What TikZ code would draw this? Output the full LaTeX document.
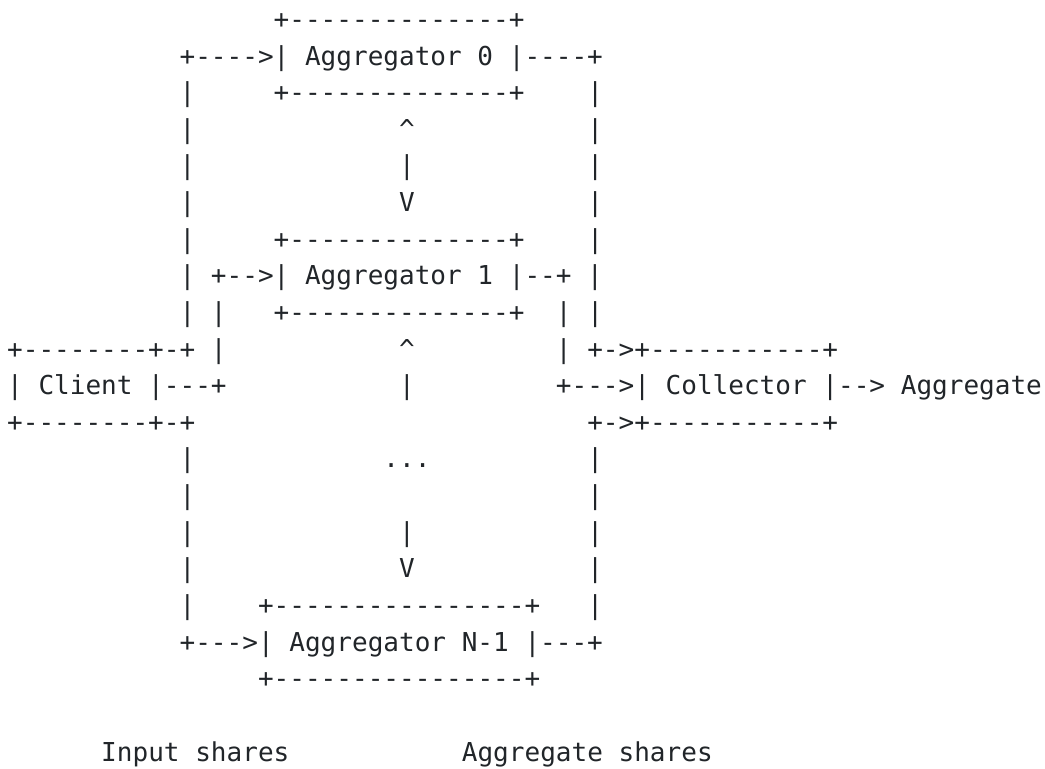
\documentclass[tikz,border=0pt]{standalone}
\usepackage{fontspec}
\setmonofont{DejaVu Sans Mono}
\definecolor{ink}{RGB}{33,37,41}

\begin{document}
\begin{tikzpicture}[x=15.68pt,y=-36.63pt,
  art/.style={font=\ttfamily\fontsize{26.04pt}{36.6pt}\selectfont,text=ink,inner sep=0pt,outer sep=0pt,anchor=base west,yshift=-9pt}]
\useasboundingbox (-0.457,-0.530) rectangle (66.19,20.46);

\node[art] (aggzerotop) at (17,0) {+--------------+};
\node[art] (aggzero) at (11,1) {+---->| Aggregator 0 |----+};
\node[art] (leftbarb) at (11,2) {|};
\node[art] (aggzerobot) at (17,2) {+--------------+};
\node[art] (rightbarb) at (37,2) {|};
\node[art] (leftbarc) at (11,3) {|};
\node[art] (uptipa) at (25,3) {\textasciicircum};
\node[art] (rightbarc) at (37,3) {|};
\node[art] (leftbard) at (11,4) {|};
\node[art] (midbara) at (25,4) {|};
\node[art] (rightbard) at (37,4) {|};
\node[art] (leftbare) at (11,5) {|};
\node[art] (downtipa) at (25,5) {V};
\node[art] (rightbare) at (37,5) {|};
\node[art] (leftbarf) at (11,6) {|};
\node[art] (aggonetop) at (17,6) {+--------------+};
\node[art] (rightbarf) at (37,6) {|};

\node[art] (aggone) at (11,7) {| +-->| Aggregator 1 |--+ |};
\node[art] (leftbarg) at (11,8) {| |};
\node[art] (aggonebot) at (17,8) {+--------------+};
\node[art] (rightbarg) at (35,8) {| |};
\node[art] (clienttop) at (0,9) {+--------+-+ |};
\node[art] (uptipb) at (25,9) {\textasciicircum};
\node[art] (collectortop) at (35,9) {| +->+-----------+};
\node[art] (client) at (0,10) {| Client |---+};
\node[art] (midbarb) at (25,10) {|};
\node[art] (collector) at (35,10) {+--->| Collector |--> Aggregate};
\node[art] (clientbot) at (0,11) {+--------+-+};
\node[art] (collectorbot) at (37,11) {+->+-----------+};

\node[art] (leftbarh) at (11,12) {|};
\node[art] (dots) at (24,12) {...};
\node[art] (rightbarh) at (37,12) {|};
\node[art] (leftbari) at (11,13) {|};
\node[art] (rightbari) at (37,13) {|};
\node[art] (leftbarj) at (11,14) {|};
\node[art] (midbarc) at (25,14) {|};
\node[art] (rightbarj) at (37,14) {|};
\node[art] (leftbark) at (11,15) {|};
\node[art] (downtipb) at (25,15) {V};
\node[art] (rightbark) at (37,15) {|};
\node[art] (leftbarl) at (11,16) {|};
\node[art] (aggntop) at (16,16) {+----------------+};
\node[art] (rightbarl) at (37,16) {|};
\node[art] (aggn) at (11,17) {+--->| Aggregator N-1 |---+};
\node[art] (aggnbot) at (16,18) {+----------------+};

\node[art] (inputshares) at (6,20) {Input shares};
\node[art] (aggshares) at (29,20) {Aggregate shares};
\end{tikzpicture}
\end{document}
